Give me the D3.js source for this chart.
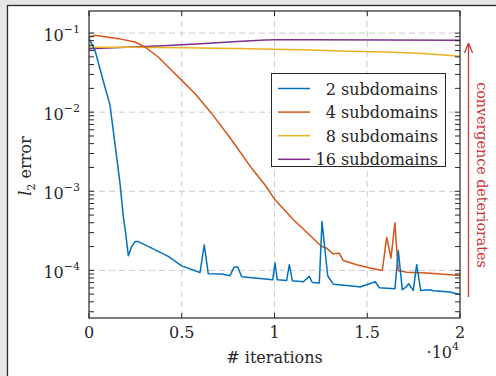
<!DOCTYPE html>
<html><head><meta charset="utf-8">
<script src="https://cdn.jsdelivr.net/npm/d3@7"></script>
<style>
html,body{margin:0;padding:0;background:#e6e6e6;}
svg{display:block;}
text{font-family:"DejaVu Serif",serif;fill:#262626;}
</style></head>
<body><svg id="c" width="496" height="376"></svg>
<script>
// ---- data ----
const seriesNames = ["2 subdomains","4 subdomains","8 subdomains","16 subdomains"];
const seriesColors = ["#0072BD","#D95319","#EDB120","#7E2F8E"];

const iter2 = [0,323,684,1132,1580,1671,1849,1978,2118,2302,2480,2657,3380,4275,4997,5983,6215,6431,7153,7601,7817,8016,8232,9488,9903,10027,10151,10658,10798,10960,11553,11876,12038,12415,12561,12868,13170,14431,14609,14970,15433,15649,16495,16673,16889,17088,17234,17482,17665,17881,18382,18560,19461,19822,20000];
const err2 = [0.085,0.0605,0.0293,0.01226,1.86e-3,1.26e-3,4.8e-4,2.96e-4,1.53e-4,2.0e-4,2.31e-4,2.31e-4,1.91e-4,1.5e-4,1.14e-4,9.4e-5,2.1e-4,9.05e-5,8.97e-5,8.55e-5,1.1e-4,1.1e-4,8.3e-5,7.8e-5,7.6e-5,1.24e-4,7.6e-5,7.46e-5,1.18e-4,7.4e-5,7.18e-5,8.4e-5,7.03e-5,6.9e-5,4.14e-4,8.55e-5,6.7e-5,6.27e-5,6.15e-5,6.57e-5,7.18e-5,6.04e-5,5.86e-5,1.78e-4,5.7e-5,6.15e-5,6.77e-5,5.58e-5,1.18e-4,5.58e-5,5.7e-5,5.53e-5,5.32e-5,5.07e-5,4.95e-5];

const iter4 = [0,323,1590,2480,3020,3730,4450,4990,5710,6610,7690,8770,9490,10030,11010,12540,12810,13140,13490,13710,14430,15150,15810,16050,16280,16490,16670,17120,18200,19820,20000];
const err4 = [0.0891,0.0935,0.085,0.077,0.0666,0.0498,0.0339,0.0254,0.0172,0.00964,0.00444,0.00195,0.0012,7.8e-4,4.4e-4,2.0e-4,1.91e-4,1.62e-4,1.65e-4,1.33e-4,1.18e-4,1.07e-4,9.97e-5,2.63e-4,1.43e-4,4.0e-4,9.9e-5,9.5e-5,9.25e-5,8.7e-5,8.6e-5];

const iter8 = [0,2000,5000,8000,10000,12000,14000,16000,18000,20000];
const err8 = [0.066,0.066,0.065,0.064,0.0625,0.061,0.059,0.0575,0.055,0.051];

const iter16 = [0,2000,4000,6000,8000,9500,10000,12000,16000,20000];
const err16 = [0.0635,0.066,0.069,0.073,0.078,0.0815,0.082,0.082,0.0815,0.081];

const xTicks = [0,5000,10000,15000,20000];
const xTickLabels = ["0","0.5","1","1.5","2"];
const yTicks = [1e-1,1e-2,1e-3,1e-4];
const yTickExps = ["−1","−2","−3","−4"];
const xDomain = [0,20000];
const yDomain = [2.5e-5,0.19];

// ---- drawing ----
const svg = d3.select("#c");
const L=89,R=460,T=11,B=318;
const x = d3.scaleLinear().domain(xDomain).range([L,R]);
const y = d3.scaleLog().domain(yDomain).range([B,T]);

// figure frame
svg.append("rect").attr("x",7.5).attr("y",5.5).attr("width",600).attr("height",600)
  .attr("fill","#fff").attr("stroke","#2a2a2a").attr("stroke-width",1.3);

// gridlines
const g = svg.append("g");
g.selectAll(".gx").data(xTicks.slice(1,-1)).join("line")
  .attr("x1",d=>x(d)).attr("x2",d=>x(d)).attr("y1",T).attr("y2",B)
  .attr("stroke","#cccccc").attr("stroke-dasharray","6,4");
g.selectAll(".gy").data(yTicks).join("line")
  .attr("x1",L).attr("x2",R).attr("y1",d=>y(d)).attr("y2",d=>y(d))
  .attr("stroke","#cccccc").attr("stroke-dasharray","6,4");

// lines
const line = d3.line().x(d=>x(d[0])).y(d=>y(d[1]));
const series = [[iter2,err2],[iter4,err4],[iter8,err8],[iter16,err16]];
const clip = svg.append("clipPath").attr("id","clp").append("rect").attr("x",L).attr("y",T).attr("width",R-L).attr("height",B-T);
const lg = svg.append("g").attr("clip-path","url(#clp)");
[3,2,1,0].forEach(i=>{
  const pts = d3.zip(series[i][0],series[i][1]);
  lg.append("path").attr("d",line(pts)).attr("fill","none")
    .attr("stroke",seriesColors[i]).attr("stroke-width",1.5).attr("stroke-linejoin","round");
});

// axes (ticks inward on all four sides)
const tl = 5;
const minor = [];
for (let e=-5;e<=-1;e++) for (let m=2;m<=9;m++){const v=m*Math.pow(10,e); if(v>=yDomain[0]&&v<=yDomain[1]) minor.push(v);}
const ax = svg.append("g").attr("stroke","#262626").attr("stroke-width",1);
[...yTicks,...minor].forEach(v=>{
  ax.append("line").attr("x1",L).attr("x2",L+tl).attr("y1",y(v)).attr("y2",y(v));
  ax.append("line").attr("x1",R).attr("x2",R-tl).attr("y1",y(v)).attr("y2",y(v));
});
xTicks.forEach(v=>{
  ax.append("line").attr("x1",x(v)).attr("x2",x(v)).attr("y1",B).attr("y2",B-tl);
  ax.append("line").attr("x1",x(v)).attr("x2",x(v)).attr("y1",T).attr("y2",T+tl);
});
svg.append("rect").attr("x",L).attr("y",T).attr("width",R-L).attr("height",B-T)
  .attr("fill","none").attr("stroke","#262626").attr("stroke-width",1.2);

// tick labels
svg.selectAll(".xl").data(xTicks).join("text")
  .attr("x",d=>x(d)).attr("y",B+20).attr("text-anchor","middle").attr("font-size",16)
  .text((d,i)=>xTickLabels[i]);
yTicks.forEach((v,i)=>{
  const t = svg.append("text").attr("x",L-9).attr("y",y(v)+8).attr("text-anchor","end").attr("font-size",16);
  t.append("tspan").text("10");
  t.append("tspan").attr("dy",-8).attr("font-size",11).text(yTickExps[i]);
});

// axis labels
svg.append("text").attr("x",(L+R)/2).attr("y",363).attr("text-anchor","middle").attr("font-size",16).text("# iterations");
const ex = svg.append("text").attr("x",459).attr("y",358).attr("text-anchor","end").attr("font-size",16);
ex.append("tspan").text("·10");
ex.append("tspan").attr("dy",-8).attr("font-size",11).text("4");
const yl = svg.append("text").attr("transform","translate(31,166) rotate(-90)").attr("text-anchor","middle").attr("font-size",16);
yl.append("tspan").attr("font-style","italic").text("l");
yl.append("tspan").attr("dy",4).attr("font-size",11).text("2");
yl.append("tspan").attr("dy",-4).text(" error");

// legend
const lgX=271.5, lgY=73.5, lgW=174, lgH=93;
svg.append("rect").attr("x",lgX).attr("y",lgY).attr("width",lgW).attr("height",lgH)
  .attr("fill","#fff").attr("stroke","#262626").attr("stroke-width",1);
seriesNames.forEach((n,i)=>{
  const yy = lgY+15+i*23.6;
  svg.append("line").attr("x1",278).attr("x2",310).attr("y1",yy).attr("y2",yy)
    .attr("stroke",seriesColors[i]).attr("stroke-width",1.5);
  svg.append("text").attr("x",438).attr("y",yy+6).attr("text-anchor","end").attr("font-size",16).text(n);
});

// annotation
const red="#cc3333";
svg.append("defs").append("marker").attr("id","ah").attr("viewBox","0 0 10 10").attr("refX",9).attr("refY",5)
  .attr("markerWidth",8).attr("markerHeight",8).attr("orient","auto-start-reverse")
  .append("path").attr("d","M0,1 L10,5 L0,9").attr("fill","none").attr("stroke",red).attr("stroke-width",1.2);
svg.append("line").attr("x1",468.5).attr("x2",468.5).attr("y1",297).attr("y2",44)
  .attr("stroke",red).attr("stroke-width",1.3).attr("marker-end","url(#ah)");
svg.append("text").attr("transform","translate(477,175) rotate(90)").attr("text-anchor","middle")
  .attr("font-size",14.3).style("fill",red).text("convergence deteriorates");
</script></body></html>
